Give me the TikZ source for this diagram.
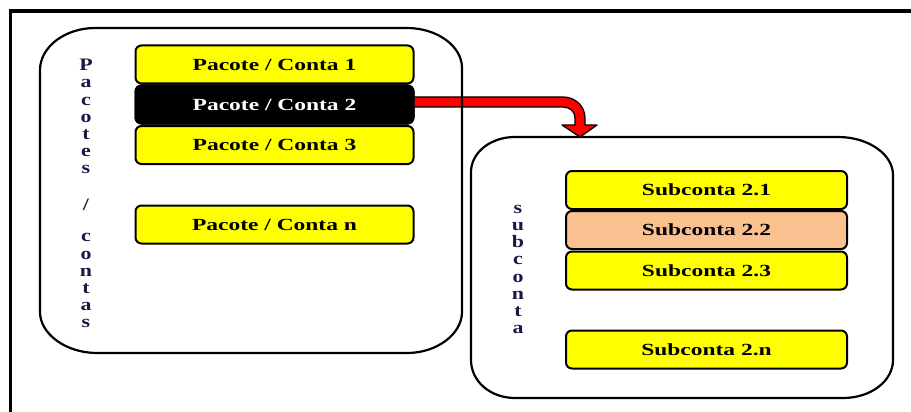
\documentclass[tikz,border=0pt]{standalone}
\usepackage{fontspec}
\usepackage{graphicx}
\usetikzlibrary{calc}
\setmainfont{Liberation Serif}
\definecolor{boxyellow}{RGB}{255,255,0}
\definecolor{peach}{RGB}{250,192,143}
\definecolor{arrowred}{RGB}{255,0,0}
\definecolor{navy}{RGB}{25,25,70}
\newcommand\wtext[1]{\scalebox{1.38}[1]{#1}}
\newcommand\vstack[1]{\scalebox{1.25}[1]{\begin{tabular}{@{}c@{}}#1\end{tabular}}}
\tikzset{
  itembox/.style={draw=black, line width=2pt, rounded corners=6pt, fill=boxyellow,
    minimum height=38pt, inner sep=0pt, font=\fontsize{17}{20}\selectfont\bfseries, text=black},
  pbox/.style={itembox, minimum width=278pt},
  sbox/.style={itembox, minimum width=281pt},
  container/.style={draw=black, line width=2.2pt},
  frame/.style={draw=black, line width=3.5pt},
  vlabel/.style={inner sep=0pt, text=navy,
    font=\fontsize{17.5}{17.2}\selectfont\bfseries},
  bigarrow/.style={draw=black, line width=1.3pt, fill=arrowred, line join=round}
}
\begin{document}
\begin{tikzpicture}[x=1pt,y=-1pt]
\useasboundingbox (0,0) rectangle (911,412);
% outer frame (open to the right and bottom)
\draw[frame] (10.5,412) -- (10.5,11) -- (911,11);

% boxes of the left group
\node[pbox] (p1) at (274.5,64.5) {\wtext{Pacote / Conta 1}};
\node[pbox, fill=black, text=white] (p2) at (274.5,104.5) {\wtext{Pacote / Conta 2}};
\node[pbox] (p3) at (274.5,145) {\wtext{Pacote / Conta 3}};
\node[pbox] (pn) at (274.5,224.5) {\wtext{Pacote / Conta n}};

% red arrow from Pacote/Conta 2 to the subconta group
\coordinate (tip) at (580,137);
\filldraw[bigarrow] ($(p2.east)+(-1,-7.5)$) -- (563,97)
  .. controls (575,97) and (585,106) .. (585,118) -- (585,125) -- (597,125)
  -- (tip) -- (562,125) -- (575,125) -- (575,118)
  .. controls (575,111.5) and (570,107) .. (563,107) -- ($(p2.east)+(-1,2.5)$) -- cycle;
\node[pbox, fill=black, text=white] at (p2) {\wtext{Pacote / Conta 2}};

% boxes of the right group
\node[sbox] (s1) at (706.5,190) {\wtext{Subconta 2.1}};
\node[sbox, fill=peach] (s2) at (706.5,230) {\wtext{Subconta 2.2}};
\node[sbox] (s3) at (706.5,270.5) {\wtext{Subconta 2.3}};
\node[sbox] (sn) at (706.5,349.5) {\wtext{Subconta 2.n}};

% left container (elliptical corners)
\draw[container] (95,28) -- (407,28)
  .. controls (437,28) and (462,46) .. (462,68) -- (462,312)
  .. controls (462,334) and (437,353) .. (407,353) -- (97,353)
  .. controls (66,353) and (40,334) .. (40,312) -- (40,70)
  .. controls (40,47) and (65,28) .. (95,28) -- cycle;

% right container (elliptical corners)
\draw[container] (515,137) -- (838,137)
  .. controls (868,137) and (893,154) .. (893,175) -- (893,360)
  .. controls (893,381) and (871,398) .. (843,398) -- (515,398)
  .. controls (490,398) and (471,381) .. (471,360) -- (471,172)
  .. controls (471,153) and (490,137) .. (515,137) -- cycle;

% vertical labels
\node[vlabel, anchor=north] (lp) at (86,58.5)
  {\vstack{P\\a\\c\\o\\t\\e\\s\\[19.8pt]/\\[13.8pt]c\\o\\n\\t\\a\\s}};
\node[vlabel, anchor=north] (ls) at (518,201)
  {\vstack{s\\u\\b\\c\\o\\n\\t\\a}};
\end{tikzpicture}
\end{document}
